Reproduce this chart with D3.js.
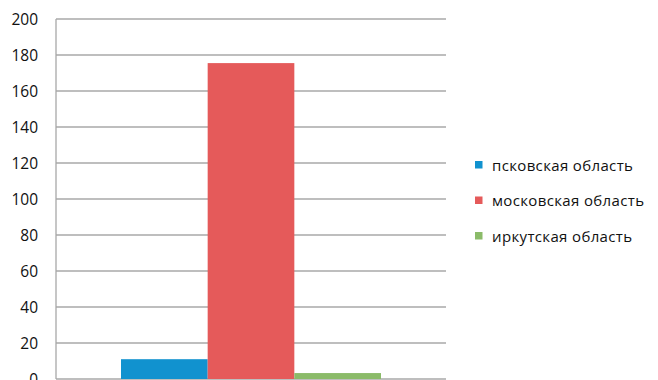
<!DOCTYPE html>
<html>
<head>
<meta charset="utf-8">
<script src="https://cdn.jsdelivr.net/npm/d3@7/dist/d3.min.js"></script>
<style>
  html, body { margin: 0; padding: 0; background: #fff; }
  svg { display: block; }
  text { font-family: "Open Sans", "Liberation Sans", sans-serif; fill: #111; }
</style>
</head>
<body>
<svg id="chart" width="658" height="380"></svg>
<script>
// Data
const categories = ["2014"];
const seriesNames = ["псковская область", "московская область", "иркутская область"];
const seriesValues = [11, 175.5, 3.3];
const seriesColors = ["#1192cf", "#e55a5a", "#8bbb69"];
const yTicks = [0, 20, 40, 60, 80, 100, 120, 140, 160, 180, 200];

const svg = d3.select("#chart");
const margin = { left: 56, right: 212, top: 19, bottom: 1 };
const W = 658, H = 380;
const plotW = W - margin.left - margin.right;
const plotH = H - margin.top - margin.bottom;

const g = svg.append("g").attr("transform", `translate(${margin.left},${margin.top})`);

const y = d3.scaleLinear().domain([0, 200]).range([plotH, 0]);
const x0 = d3.scaleBand().domain(categories).range([0, plotW]).padding(0);
const x1 = d3.scaleBand().domain(seriesNames).range([0, x0.bandwidth()])
  .paddingInner(0).paddingOuter(0.75);

// Horizontal gridlines
g.append("g")
  .selectAll("line")
  .data(yTicks)
  .join("line")
  .attr("x1", 0).attr("x2", plotW)
  .attr("y1", d => y(d)).attr("y2", d => y(d))
  .attr("stroke", "#a8a8a8").attr("stroke-width", 1.3);

// Y axis labels
const yAxis = d3.axisLeft(y).tickValues(yTicks).tickSize(0).tickPadding(18);
const ya = g.append("g").call(yAxis);
ya.select(".domain").remove();
ya.selectAll("text")
  .style("font-family", "'Open Sans', 'Liberation Sans', sans-serif")
  .style("font-size", "15.5px")
  .attr("fill", "#111")
  .attr("dy", "0.35em");

// Bars
g.append("g")
  .selectAll("g")
  .data(categories)
  .join("g")
  .attr("transform", d => `translate(${x0(d)},0)`)
  .selectAll("rect")
  .data(() => seriesNames.map((n, i) => ({ name: n, value: seriesValues[i], color: seriesColors[i] })))
  .join("rect")
  .attr("x", d => x1(d.name))
  .attr("width", x1.bandwidth())
  .attr("y", d => y(d.value))
  .attr("height", d => y(0) - y(d.value))
  .attr("fill", d => d.color);

// Left axis line
g.append("line")
  .attr("x1", 0).attr("x2", 0)
  .attr("y1", 0).attr("y2", plotH)
  .attr("stroke", "#a8a8a8").attr("stroke-width", 1.3);

// Legend
const legend = svg.append("g").attr("transform", "translate(475,161)");
const items = legend.selectAll("g")
  .data(seriesNames)
  .join("g")
  .attr("transform", (d, i) => `translate(0,${i * 35.5})`);
items.append("rect")
  .attr("width", 7.5).attr("height", 7.5)
  .attr("fill", (d, i) => seriesColors[i]);
items.append("text")
  .attr("x", 17).attr("y", 9.5)
  .style("font-size", "15px")
  .style("letter-spacing", "0.35px")
  .text(d => d);
</script>
</body>
</html>
